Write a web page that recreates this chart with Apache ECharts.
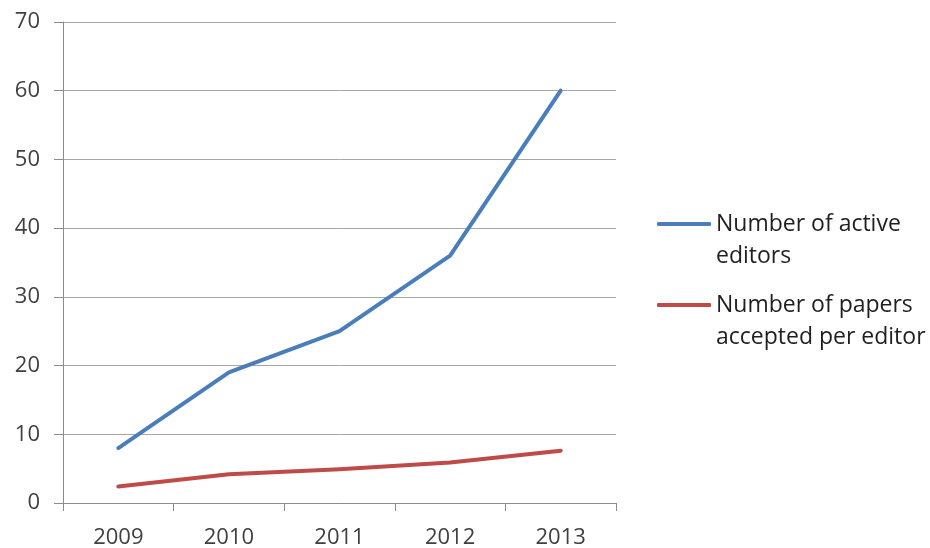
<!DOCTYPE html>
<html>
<head>
<meta charset="utf-8">
<script src="https://cdn.jsdelivr.net/npm/echarts@6/dist/echarts.min.js"></script>
<style>
html,body{margin:0;padding:0;background:#fff;}
#chart{width:930px;height:548px;}
</style>
</head>
<body>
<div id="chart"></div>
<script>
var years = ['2009', '2010', '2011', '2012', '2013'];
var activeEditors = [8, 19, 25, 36, 60];
var papersPerEditor = [2.4, 4.2, 4.9, 5.9, 7.6];
var seriesNames = ['Number of active editors', 'Number of papers accepted per editor'];
var legendLabels = [' \nNumber of active\neditors', ' \nNumber of papers\naccepted per editor'];

var FONT = '"Open Sans", "Liberation Sans", sans-serif';
var chart = echarts.init(document.getElementById('chart'), null, {renderer: 'canvas'});

function legendFor(i, iconY) {
  return {
    orient: 'vertical',
    left: 657,
    top: iconY - 48,
    data: [seriesNames[i]],
    icon: 'roundRect',
    itemWidth: 54,
    itemHeight: 4,
    itemGap: 0,
    padding: 0,
    selectedMode: false,
    formatter: function () { return legendLabels[i]; },
    textStyle: {
      fontFamily: FONT,
      fontSize: 23,
      color: '#1f1f1f',
      lineHeight: 32
    }
  };
}

chart.setOption({
  animation: false,
  backgroundColor: '#ffffff',
  grid: {left: 63, right: 314, top: 22, bottom: 45, containLabel: false, outerBoundsMode: 'none'},
  legend: [legendFor(0, 224), legendFor(1, 305)],
  xAxis: {
    type: 'category',
    data: years,
    boundaryGap: true,
    axisLine: {show: true, lineStyle: {color: '#8c8c8c', width: 1}},
    axisTick: {show: true, length: 8, interval: 0, lineStyle: {color: '#8c8c8c'}},
    axisLabel: {fontFamily: FONT, fontSize: 22, color: '#404040', margin: 24}
  },
  yAxis: {
    type: 'value',
    min: 0, max: 70, interval: 10,
    axisLine: {show: true, lineStyle: {color: '#8c8c8c', width: 1}},
    axisTick: {show: true, length: 9, lineStyle: {color: '#8c8c8c'}},
    splitLine: {show: true, lineStyle: {color: '#a6a6a6', width: 1}},
    axisLabel: {fontFamily: FONT, fontSize: 22, color: '#404040', margin: 23}
  },
  series: [
    {
      name: seriesNames[0], type: 'line', data: activeEditors,
      symbol: 'none', color: '#4a7ebb',
      lineStyle: {width: 4, color: '#4a7ebb', cap: 'round', join: 'round'}
    },
    {
      name: seriesNames[1], type: 'line', data: papersPerEditor,
      symbol: 'none', color: '#be4b48',
      lineStyle: {width: 4, color: '#be4b48', cap: 'round', join: 'round'}
    }
  ]
});
</script>
</body>
</html>
